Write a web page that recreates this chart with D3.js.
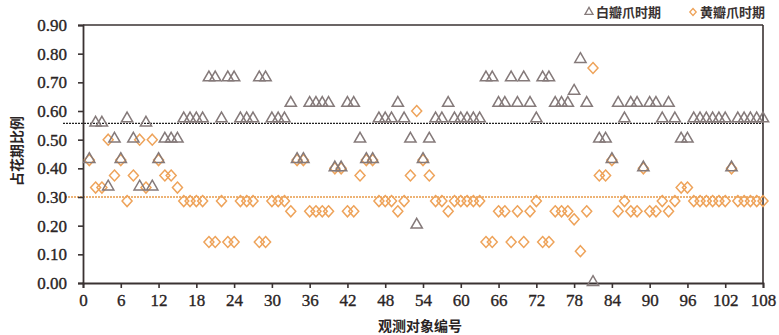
<!DOCTYPE html>
<html><head><meta charset="utf-8">
<script src="https://cdn.jsdelivr.net/npm/d3@7"></script>
<style>
html,body{margin:0;padding:0;background:#fff;}
svg{display:block;}
</style></head>
<body>
<svg id="c" width="779" height="335"></svg>
<script>
const ids = d3.range(1, 109);
const whiteStage = [
0.429,0.556,0.556,0.333,0.5,0.429,0.571,0.5,0.333,0.556,
0.333,0.429,0.5,0.5,0.5,0.571,0.571,0.571,0.571,0.714,
0.714,0.571,0.714,0.714,0.571,0.571,0.571,0.714,0.714,0.571,
0.571,0.571,0.625,0.429,0.429,0.625,0.625,0.625,0.625,0.4,
0.4,0.625,0.625,0.5,0.429,0.429,0.571,0.571,0.571,0.625,
0.571,0.5,0.2,0.429,0.5,0.571,0.571,0.625,0.571,0.571,
0.571,0.571,0.571,0.714,0.714,0.625,0.625,0.714,0.625,0.714,
0.625,0.571,0.714,0.714,0.625,0.625,0.625,0.667,0.778,0.625,
0,0.5,0.5,0.429,0.625,0.571,0.625,0.625,0.4,0.625,
0.625,0.571,0.625,0.571,0.5,0.5,0.571,0.571,0.571,0.571,
0.571,0.571,0.4,0.571,0.571,0.571,0.571,0.571];
const yellowStage = [
0.429,0.333,0.333,0.5,0.375,0.429,0.286,0.375,0.5,0.333,
0.5,0.429,0.375,0.375,0.333,0.286,0.286,0.286,0.286,0.143,
0.143,0.286,0.143,0.143,0.286,0.286,0.286,0.143,0.143,0.286,
0.286,0.286,0.25,0.429,0.429,0.25,0.25,0.25,0.25,0.4,
0.4,0.25,0.25,0.375,0.429,0.429,0.286,0.286,0.286,0.25,
0.286,0.375,0.6,0.429,0.375,0.286,0.286,0.25,0.286,0.286,
0.286,0.286,0.286,0.143,0.143,0.25,0.25,0.143,0.25,0.143,
0.25,0.286,0.143,0.143,0.25,0.25,0.25,0.222,0.111,0.25,
0.75,0.375,0.375,0.429,0.25,0.286,0.25,0.25,0.4,0.25,
0.25,0.286,0.25,0.286,0.333,0.333,0.286,0.286,0.286,0.286,
0.286,0.286,0.4,0.286,0.286,0.286,0.286,0.286];
const meanWhite = 0.557;
const meanYellow = 0.30;
const xTicks = [0,6,12,18,24,30,36,42,48,54,60,66,72,78,84,90,96,102,108];
const yTicks = [0,0.1,0.2,0.3,0.4,0.5,0.6,0.7,0.8,0.9];
const seriesNames = ["白瓣爪时期","黄瓣爪时期"];
const xTitle = "观测对象编号";
const yTitle = "占花期比例";

const W = 779, H = 335;
const m = {l:83, r:16, t:25, b:52};
const svg = d3.select("#c");
const x = d3.scaleLinear().domain([0,108]).range([m.l, W-m.r]);
const y = d3.scaleLinear().domain([0,0.9]).range([H-m.b, m.t]);
const numFont = "'Liberation Serif','Times New Roman',serif";
const cjkFont = "'Noto Sans CJK SC',sans-serif";
const triColor = "#857a7a";
const diaColor = "#eea35a";

// frame top/right
svg.append("line").attr("x1",x(0)).attr("x2",x(108)).attr("y1",y(0.9)).attr("y2",y(0.9))
  .attr("stroke","#3a3232").attr("stroke-width",1.6);
svg.append("line").attr("x1",x(108)).attr("x2",x(108)).attr("y1",y(0.9)).attr("y2",y(0))
  .attr("stroke","#3a3232").attr("stroke-width",1.6);

// mean lines
svg.append("line").attr("x1",m.l-20).attr("x2",x(108)).attr("y1",y(meanWhite)).attr("y2",y(meanWhite))
  .attr("stroke","#222").attr("stroke-width",1.4).attr("stroke-dasharray","2,1");
svg.append("line").attr("x1",m.l-18).attr("x2",x(108)).attr("y1",y(meanYellow)).attr("y2",y(meanYellow))
  .attr("stroke","#e89a4a").attr("stroke-width",1.3).attr("stroke-dasharray","2,1");

// axes
const yAxis = svg.append("g").attr("transform",`translate(${m.l},0)`)
  .call(d3.axisLeft(y).tickValues(yTicks).tickFormat(d3.format(".2f")).tickSize(5).tickPadding(11));
const xAxis = svg.append("g").attr("transform",`translate(0,${H-m.b})`)
  .call(d3.axisBottom(x).tickValues(xTicks).tickSize(5).tickPadding(6));
[yAxis,xAxis].forEach(g=>{
  g.select(".domain").attr("stroke","#3a3232").attr("stroke-width",1.8);
  g.selectAll(".tick line").attr("stroke","#3a3232").attr("stroke-width",1.6);
  g.selectAll(".tick text").attr("fill","#2a2424").attr("stroke","#2a2424").attr("stroke-width",0.35)
    .style("font-family",numFont).style("font-size","17px");
});

// symbols
const triPath = d3.symbol().type(d3.symbolTriangle).size(55);
const diaPath = "M0,-5.5L5,0L0,5.5L-5,0Z";
svg.append("g").selectAll("path").data(ids.map((d,i)=>[d,yellowStage[i]])).join("path")
  .attr("d",diaPath).attr("transform",d=>`translate(${x(d[0])},${y(d[1])})`)
  .attr("fill","none").attr("stroke",diaColor).attr("stroke-width",1.5);
svg.append("g").selectAll("path").data(ids.map((d,i)=>[d,whiteStage[i]])).join("path")
  .attr("d",triPath).attr("transform",d=>`translate(${x(d[0])},${y(d[1])-0.8})`)
  .attr("fill","none").attr("stroke",triColor).attr("stroke-width",1.5);

// legend
const lg = svg.append("g");
lg.append("path").attr("d",d3.symbol().type(d3.symbolTriangle).size(28)).attr("transform","translate(589,12)")
  .attr("fill","none").attr("stroke",triColor).attr("stroke-width",1.3);
lg.append("text").attr("x",596).attr("y",17).text(seriesNames[0])
  .style("font-family",cjkFont).style("font-size","13px").style("font-weight","bold").attr("fill","#3a3232");
lg.append("path").attr("d","M0,-3.5L3.2,0L0,3.5L-3.2,0Z").attr("transform","translate(693,12)")
  .attr("fill","none").attr("stroke",diaColor).attr("stroke-width",1.3);
lg.append("text").attr("x",700).attr("y",17).text(seriesNames[1])
  .style("font-family",cjkFont).style("font-size","13px").style("font-weight","bold").attr("fill","#3a3232");

// titles
svg.append("text").attr("x",420).attr("y",331).attr("text-anchor","middle").text(xTitle)
  .style("font-family",cjkFont).style("font-size","14px").style("font-weight","bold").attr("fill","#2a2424");
svg.append("text").attr("transform","translate(22,151) rotate(-90)").attr("text-anchor","middle").text(yTitle)
  .style("font-family",cjkFont).style("font-size","14px").style("font-weight","bold").attr("fill","#2a2424");
</script>
</body></html>
